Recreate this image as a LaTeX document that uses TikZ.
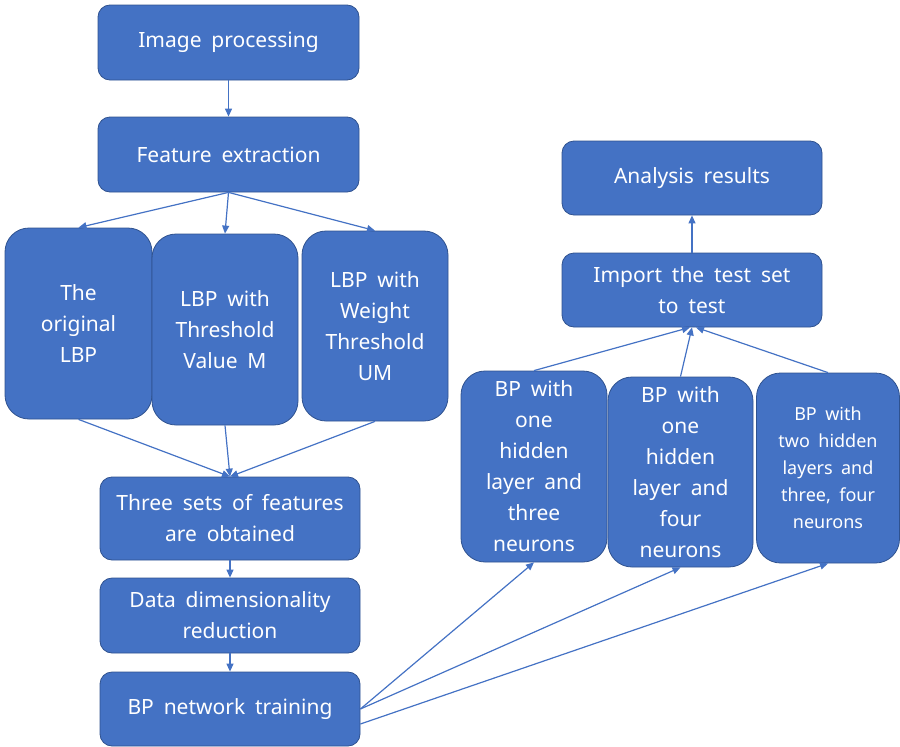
\documentclass[tikz,border=0pt]{standalone}
\usepackage{fontspec}
\setmainfont{Noto Sans}[WordSpace=1.8]
\usetikzlibrary{arrows.meta,calc}
\definecolor{boxblue}{HTML}{4472C4}
\definecolor{edgeblue}{HTML}{2F528F}
\begin{document}
\begin{tikzpicture}[x=1pt,y=-1pt,
 box/.style={draw=edgeblue, line width=0.8pt, fill=boxblue, text=white, rounded corners=12pt, align=center, inner sep=0pt, font=\fontsize{21}{31}\selectfont},
 tall/.style={box, rounded corners=24pt},
 arr/.style={draw=boxblue, line width=1.2pt, -{Triangle[length=8pt,width=7pt]}}]
\useasboundingbox (0,0) rectangle (900,747);
\node[box, minimum width=261pt, minimum height=75pt] (ip) at (228.5,42.5) {Image processing};
\node[box, minimum width=261pt, minimum height=75pt] (fe) at (228.5,154.5) {Feature extraction};
\node[tall, minimum width=147pt, minimum height=191pt] (lbp1) at (78.5,323.5) {The\\original\\LBP};
\node[tall, minimum width=146pt, minimum height=191pt] (lbp2) at (225,329.5) {LBP with\\Threshold\\Value M};
\node[tall, minimum width=146pt, minimum height=190pt] (lbp3) at (375,326) {LBP with\\Weight\\Threshold\\UM};
\node[box, minimum width=260pt, minimum height=83pt] (ts) at (230,518.5) {Three sets of features\\are obtained};
\node[box, minimum width=260pt, minimum height=75pt] (dd) at (230,615.5) {Data dimensionality\\reduction};
\node[box, minimum width=260pt, minimum height=74pt] (bpt) at (230,709) {BP network training};
\node[box, minimum width=260pt, minimum height=74pt] (ar) at (692,178) {Analysis results};
\node[box, minimum width=260pt, minimum height=74pt] (imp) at (692,290) {Import the test set\\to test};
\node[tall, minimum width=146pt, minimum height=191pt] (bp1) at (534,466.5) {BP with\\one\\hidden\\layer and\\three\\neurons};
\node[tall, minimum width=145pt, minimum height=190pt] (bp2) at (680.5,472) {BP with\\one\\hidden\\layer and\\four\\neurons};
\node[tall, minimum width=143pt, minimum height=190pt, font=\fontsize{18}{27}\selectfont] (bp3) at (828,468) {BP with\\two hidden\\layers and\\three, four\\neurons};
\draw[arr] (ip) -- (fe);
\draw[arr] (fe.south) -- (lbp1.north);
\draw[arr] (fe.south) -- (lbp2.north);
\draw[arr] (fe.south) -- (lbp3.north);
\draw[arr] (lbp1.south) -- (ts.north);
\draw[arr] (lbp2.south) -- (ts.north);
\draw[arr] (lbp3.south) -- (ts.north);
\draw[arr] (ts) -- (dd);
\draw[arr] (dd) -- (bpt);
\draw[arr] (bpt.east) -- (bp1.south);
\draw[arr] (bpt.east) -- (bp2.south);
\draw[arr] ($(bpt.east)+(0,15)$) -- (bp3.south);
\draw[arr] (bp1.north) -- ($(imp.south)+(-2,0)$);
\draw[arr] (bp2.north) -- (imp.south);
\draw[arr] (bp3.north) -- ($(imp.south)+(4,0)$);
\draw[arr] (imp) -- (ar);
\end{tikzpicture}
\end{document}
